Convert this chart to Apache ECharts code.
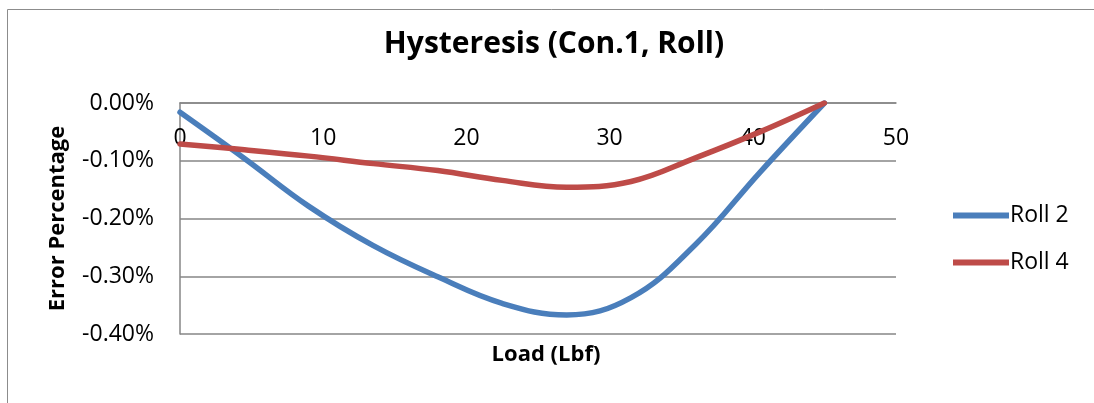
<!DOCTYPE html>
<html>
<head>
<meta charset="utf-8">
<script src="https://cdn.jsdelivr.net/npm/echarts@6/dist/echarts.min.js"></script>
<style>
html,body{margin:0;padding:0;background:#fff;}
#c{width:1094px;height:403px;}
</style>
</head>
<body>
<div id="c"></div>
<script>
// Load (Lbf)
const loads = [0, 4.5, 9, 13.5, 18, 22.5, 27, 31.5, 36, 40.5, 45];
// Error percentage (%)
const roll2 = [-0.016, -0.096, -0.179, -0.247, -0.301, -0.347, -0.367, -0.337, -0.245, -0.120, 0];
const roll4 = [-0.071, -0.081, -0.092, -0.105, -0.117, -0.134, -0.146, -0.136, -0.095, -0.050, 0];
const seriesNames = ['Roll 2', 'Roll 4'];
const xTicks = [0, 10, 20, 30, 40, 50];
const yTicks = [0, -0.1, -0.2, -0.3, -0.4];

const FONT = 'Open Sans';
const chart = echarts.init(document.getElementById('c'), null, {renderer: 'canvas'});
const pair = (xs, ys) => xs.map((x, i) => [x, ys[i]]);

chart.setOption({
  backgroundColor: '#ffffff',
  animation: false,
  graphic: [{
    type: 'rect', shape: {x: 7.5, y: 9.5, width: 1200, height: 500},
    style: {fill: 'none', stroke: '#8c8c8c', lineWidth: 1}
  }],
  title: [{
    text: 'Hysteresis (Con.1, Roll)',
    left: 549, top: 24, textAlign: 'center',
    textStyle: {fontFamily: FONT, fontWeight: 'bold', fontSize: 30, color: '#000'}
  }, {
    text: 'Load (Lbf)',
    left: 541, top: 339, textAlign: 'center',
    textStyle: {fontFamily: FONT, fontWeight: 'bold', fontSize: 22, color: '#000'}
  }],
  legend: {
    orient: 'vertical', left: 948, top: 199, itemGap: 24,
    itemWidth: 56, itemHeight: 6, icon: 'rect',
    textStyle: {fontFamily: FONT, fontSize: 23, color: '#000', padding: [0, 0, 0, -4]},
    data: seriesNames
  },
  grid: {left: 180, right: 198, top: 103, bottom: 69, containLabel: false},
  xAxis: {
    type: 'value', position: 'top', min: 0, max: 50, interval: 10,
    axisLine: {show: true, onZero: false, lineStyle: {color: '#868686', width: 1.5}},
    axisTick: {show: false},
    splitLine: {show: false},
    axisLabel: {
      inside: true, margin: 24, fontFamily: FONT, fontSize: 23, color: '#000',
      formatter: v => xTicks.includes(v) ? String(v) : ''
    }
  },
  yAxis: {
    type: 'value', min: -0.4, max: 0, interval: 0.1,
    name: 'Error Percentage', nameLocation: 'middle', nameGap: 111, nameRotate: 90,
    nameTextStyle: {fontFamily: FONT, fontWeight: 'bold', fontSize: 22, color: '#000'},
    axisLine: {show: true, lineStyle: {color: '#868686', width: 1.5}},
    axisTick: {show: false},
    splitLine: {show: true, lineStyle: {color: '#868686', width: 1.5}},
    axisLabel: {
      margin: 26, fontFamily: FONT, fontSize: 23, color: '#000',
      formatter: v => v.toFixed(2) + '%'
    }
  },
  series: [{
    name: seriesNames[0], type: 'line', data: pair(loads, roll2), smooth: 0.4,
    showSymbol: false, lineStyle: {color: '#4a7ebb', width: 5.5, cap: 'round'},
    itemStyle: {color: '#4a7ebb'}, z: 3
  }, {
    name: seriesNames[1], type: 'line', data: pair(loads, roll4), smooth: 0.4,
    showSymbol: false, lineStyle: {color: '#be4b48', width: 5.5, cap: 'round'},
    itemStyle: {color: '#be4b48'}, z: 4
  }]
});
</script>
</body>
</html>
